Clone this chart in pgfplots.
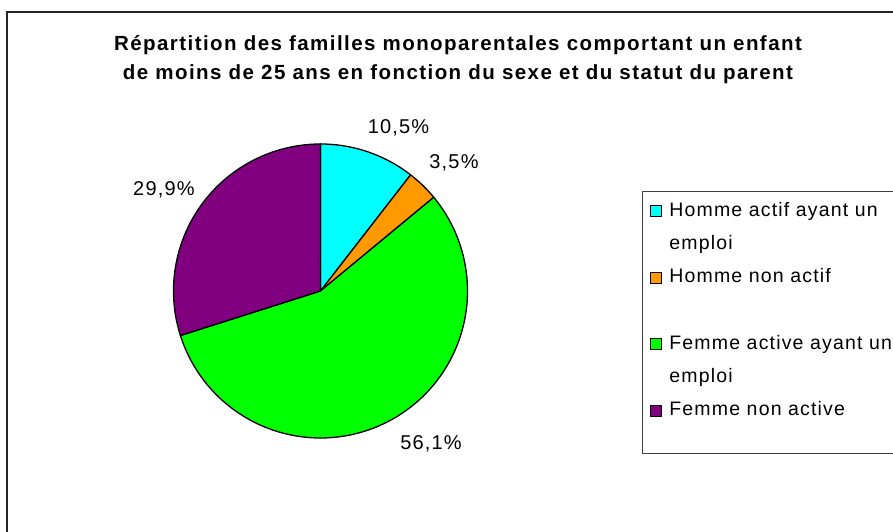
\documentclass[border=0pt]{standalone}
\usepackage{fontspec}
\setmainfont{Liberation Sans}
\newfontfamily\titlefont[LetterSpace=7]{Liberation Sans}
\newfontfamily\lfont[LetterSpace=6]{Liberation Sans}
\usepackage{pgfplots}
\usepackage{pgfplotstable}
\pgfplotsset{compat=1.18}
\definecolor{piecyan}{HTML}{00FFFF}
\definecolor{pieorange}{HTML}{FF9900}
\definecolor{piegreen}{HTML}{00FF00}
\definecolor{piepurple}{HTML}{800080}

% part of each slice, in percent, clockwise from the top
\pgfplotstableread{
share
10.5
3.5
56.1
29.9
}\piedata

\begin{document}
\begin{tikzpicture}
\pgfplotstablegetelem{0}{share}\of\piedata \pgfmathsetmacro\aA{90-3.6*\pgfplotsretval}
\pgfplotstablegetelem{1}{share}\of\piedata \pgfmathsetmacro\aB{\aA-3.6*\pgfplotsretval}
\pgfplotstablegetelem{2}{share}\of\piedata \pgfmathsetmacro\aC{\aB-3.6*\pgfplotsretval}
\pgfplotstablegetelem{3}{share}\of\piedata \pgfmathsetmacro\aD{\aC-3.6*\pgfplotsretval}
\def\cx{320.5}\def\cy{241}\def\rr{147}
\begin{axis}[
  scale only axis,
  width=893pt, height=532pt,
  xmin=0, xmax=893, ymin=0, ymax=532,
  hide axis, clip=false,
  legend style={at={(axis cs:642,341)}, anchor=north west,
    draw=black!75, line width=1pt, fill=white,
    inner xsep=7pt, inner ysep=11pt,
    row sep=14.25pt, column sep=8pt,
    nodes={inner sep=0pt, anchor=base west, text height=14pt, text depth=5pt},
    font=\lfont\fontsize{19.5}{24}\selectfont},
  legend image code/.code={\draw[#1,draw=black,line width=0.9pt] (0pt,0pt) rectangle (11pt,11pt);},
]
\coordinate (ll) at (axis cs:0,0);
\coordinate (ur) at (axis cs:893,532);
\addplot[fill=piecyan, draw=black, line width=1.3pt, line join=round, domain=\aA:90, samples=60]
  ({\cx+\rr*cos(x)},{\cy+\rr*sin(x)}) -- (axis cs:\cx,\cy) -- cycle;
\addlegendentry{Homme actif ayant un}
\addlegendimage{empty legend}
\addlegendentry{emploi}
\addplot[fill=pieorange, draw=black, line width=1.3pt, line join=round, domain=\aB:\aA, samples=20]
  ({\cx+\rr*cos(x)},{\cy+\rr*sin(x)}) -- (axis cs:\cx,\cy) -- cycle;
\addlegendentry{Homme non actif}
\addlegendimage{empty legend}
\addlegendentry{}
\addplot[fill=piegreen, draw=black, line width=1.3pt, line join=round, domain=\aC:\aB, samples=150]
  ({\cx+\rr*cos(x)},{\cy+\rr*sin(x)}) -- (axis cs:\cx,\cy) -- cycle;
\addlegendentry{Femme active ayant un\hspace*{20pt}}
\addlegendimage{empty legend}
\addlegendentry{emploi}
\addplot[fill=piepurple, draw=black, line width=1.3pt, line join=round, domain=\aD:\aC, samples=100]
  ({\cx+\rr*cos(x)},{\cy+\rr*sin(x)}) -- (axis cs:\cx,\cy) -- cycle;
\addlegendentry{Femme non active}
\addlegendimage{empty legend}
\addlegendentry[text height=0pt, text depth=7pt]{}

\node[font=\titlefont\bfseries\fontsize{20.5}{29}\selectfont, align=center]
  at (axis cs:458,472) {Répartition des familles monoparentales comportant un enfant\\de moins de 25 ans en fonction du sexe et du statut du parent};
\node[font=\lfont\fontsize{20}{24}\selectfont] at (axis cs:398.5,404) {10,5\%};
\node[font=\lfont\fontsize{20}{24}\selectfont] at (axis cs:454,369) {3,5\%};
\node[font=\lfont\fontsize{20}{24}\selectfont] at (axis cs:431,88) {56,1\%};
\node[font=\lfont\fontsize{20}{24}\selectfont] at (axis cs:164,342) {29,9\%};
\draw[line width=1.5pt, black!85] (axis cs:7,-20) |- (axis cs:920,520);
\end{axis}
\pgfresetboundingbox
\path[use as bounding box] (ll) rectangle (ur);
\end{tikzpicture}
\end{document}
